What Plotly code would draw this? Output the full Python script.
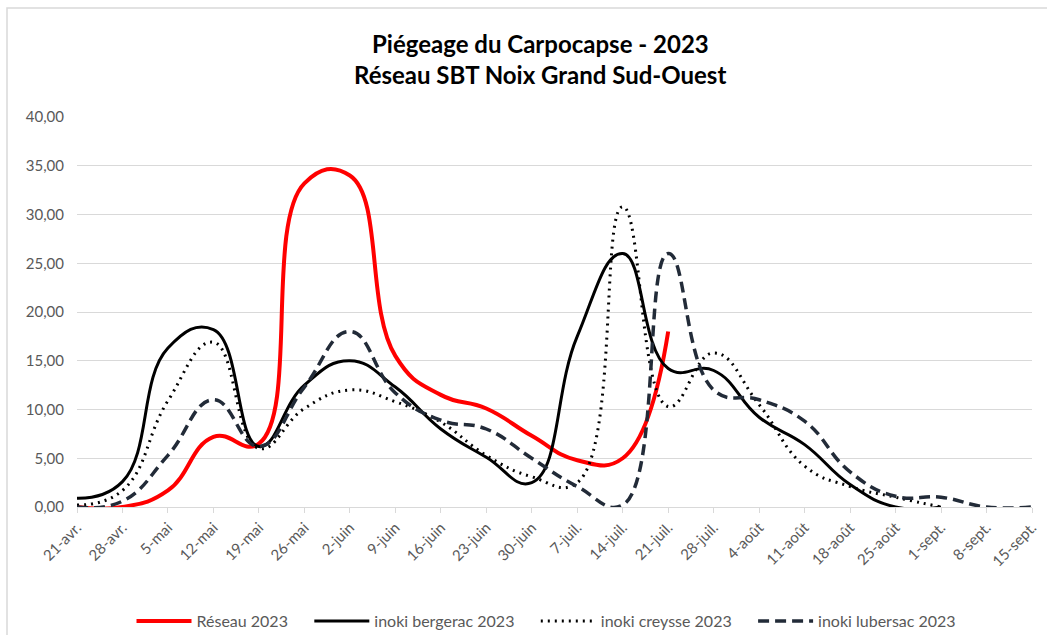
import plotly.graph_objects as go

# Weekly trap counts, 2023 season
dates = ["21-avr.", "28-avr.", "5-mai", "12-mai", "19-mai", "26-mai", "2-juin",
         "9-juin", "16-juin", "23-juin", "30-juin", "7-juil.", "14-juil.",
         "21-juil.", "28-juil.", "4-août", "11-août", "18-août", "25-août",
         "1-sept.", "8-sept.", "15-sept."]

reseau = [0, 0, 1.7, 7.2, 6.5, 33.2, 34.0, 15.5, 11.5, 10.1, 7.3, 4.8, 5.0,
          18.0, None, None, None, None, None, None, None, None]
bergerac = [0.9, 2.6, 16.3, 18.2, 6.2, 12.5, 15.0, 12.3, 8.0, 5.1, 2.5, 17.5,
            26.0, 14.2, 14.0, 9.2, 6.4, 2.3, 0, 0, None, None]
creysse = [0.2, 1.7, 10.9, 16.9, 6.0, 10.1, 12.0, 10.8, 8.7, 5.3, 3.1, 2.5,
           30.8, 10.3, 15.8, 10.5, 4.2, 2.1, 1.0, 0, None, None]
lubersac = [0, 0.6, 5.3, 11.0, 6.2, 12.3, 18.0, 11.7, 8.9, 8.0, 5.0, 2.1, 0.2,
            26.0, 12.0, 11.0, 8.8, 3.6, 1.1, 1.0, 0, 0]

series = [
    ("Réseau 2023", reseau, "#ff0000", 4, "solid"),
    ("inoki bergerac 2023", bergerac, "#000000", 3, "solid"),
    ("inoki creysse 2023", creysse, "#000000", 3, "2px,5px"),
    ("inoki lubersac 2023", lubersac, "#222b38", 3.5, "11px,6px"),
]

FONT = "Lato"
GREY = "#595959"
GRID = "#d9d9d9"
PAD = "\u00a0" * 4  # spacing after each legend entry

W, H = 1047, 635
L, R, T, B = 77, 15, 117, 128
PW, PH = W - L - R, H - T - B


def px_x(px):
    return (px - L) / PW


def px_y(py):
    return (H - B - py) / PH


fig = go.Figure()

for name, values, color, width, dash in series:
    fig.add_trace(go.Scatter(
        x=dates, y=values, name=name + PAD, mode="lines",
        line=dict(color=color, width=width, dash=dash,
                  shape="spline", smoothing=1.3),
        cliponaxis=False,
    ))

fig.update_layout(
    width=W, height=H,
    margin=dict(l=L, r=R, t=T, b=B, autoexpand=False),
    paper_bgcolor="white", plot_bgcolor="white",
    separators=", ",
    font=dict(family=FONT, size=15, color=GREY),
    showlegend=True,
    legend=dict(orientation="h", x=0.5, xanchor="center",
                y=px_y(621), yanchor="middle",
                font=dict(family=FONT, size=16, color=GREY),
                itemwidth=55, traceorder="normal"),
    xaxis=dict(type="category", range=[0, len(dates) - 1],
               automargin=False,
               showgrid=False, zeroline=False,
               showline=True, linecolor=GRID, linewidth=1,
               ticks="outside", ticklen=5, tickcolor=GRID,
               tickangle=-45, tickfont=dict(family=FONT, size=15, color=GREY)),
    yaxis=dict(range=[0, 40], dtick=5, tickformat=".2f",
               automargin=False,
               showgrid=True, gridcolor=GRID, gridwidth=1,
               zeroline=False, showline=False, ticks="",
               ticklabelstandoff=12,
               tickfont=dict(family=FONT, size=15, color=GREY)),
)

# Title, two centred bold lines
for text, py in [("Piégeage du Carpocapse - 2023", 43),
                 ("Réseau SBT Noix Grand Sud-Ouest", 75)]:
    fig.add_annotation(text=f"<b>{text}</b>", xref="paper", yref="paper",
                       x=px_x(540), y=px_y(py), xanchor="center",
                       yanchor="middle", showarrow=False,
                       font=dict(family=FONT, size=24, color="#000000"))

# Chart frame (top and left edges fall inside the page)
fig.add_shape(type="rect", xref="paper", yref="paper",
              x0=px_x(7), x1=px_x(1100), y0=px_y(700), y1=px_y(8),
              line=dict(color=GRID, width=1.5), layer="below")

fig.write_html("out.html")
